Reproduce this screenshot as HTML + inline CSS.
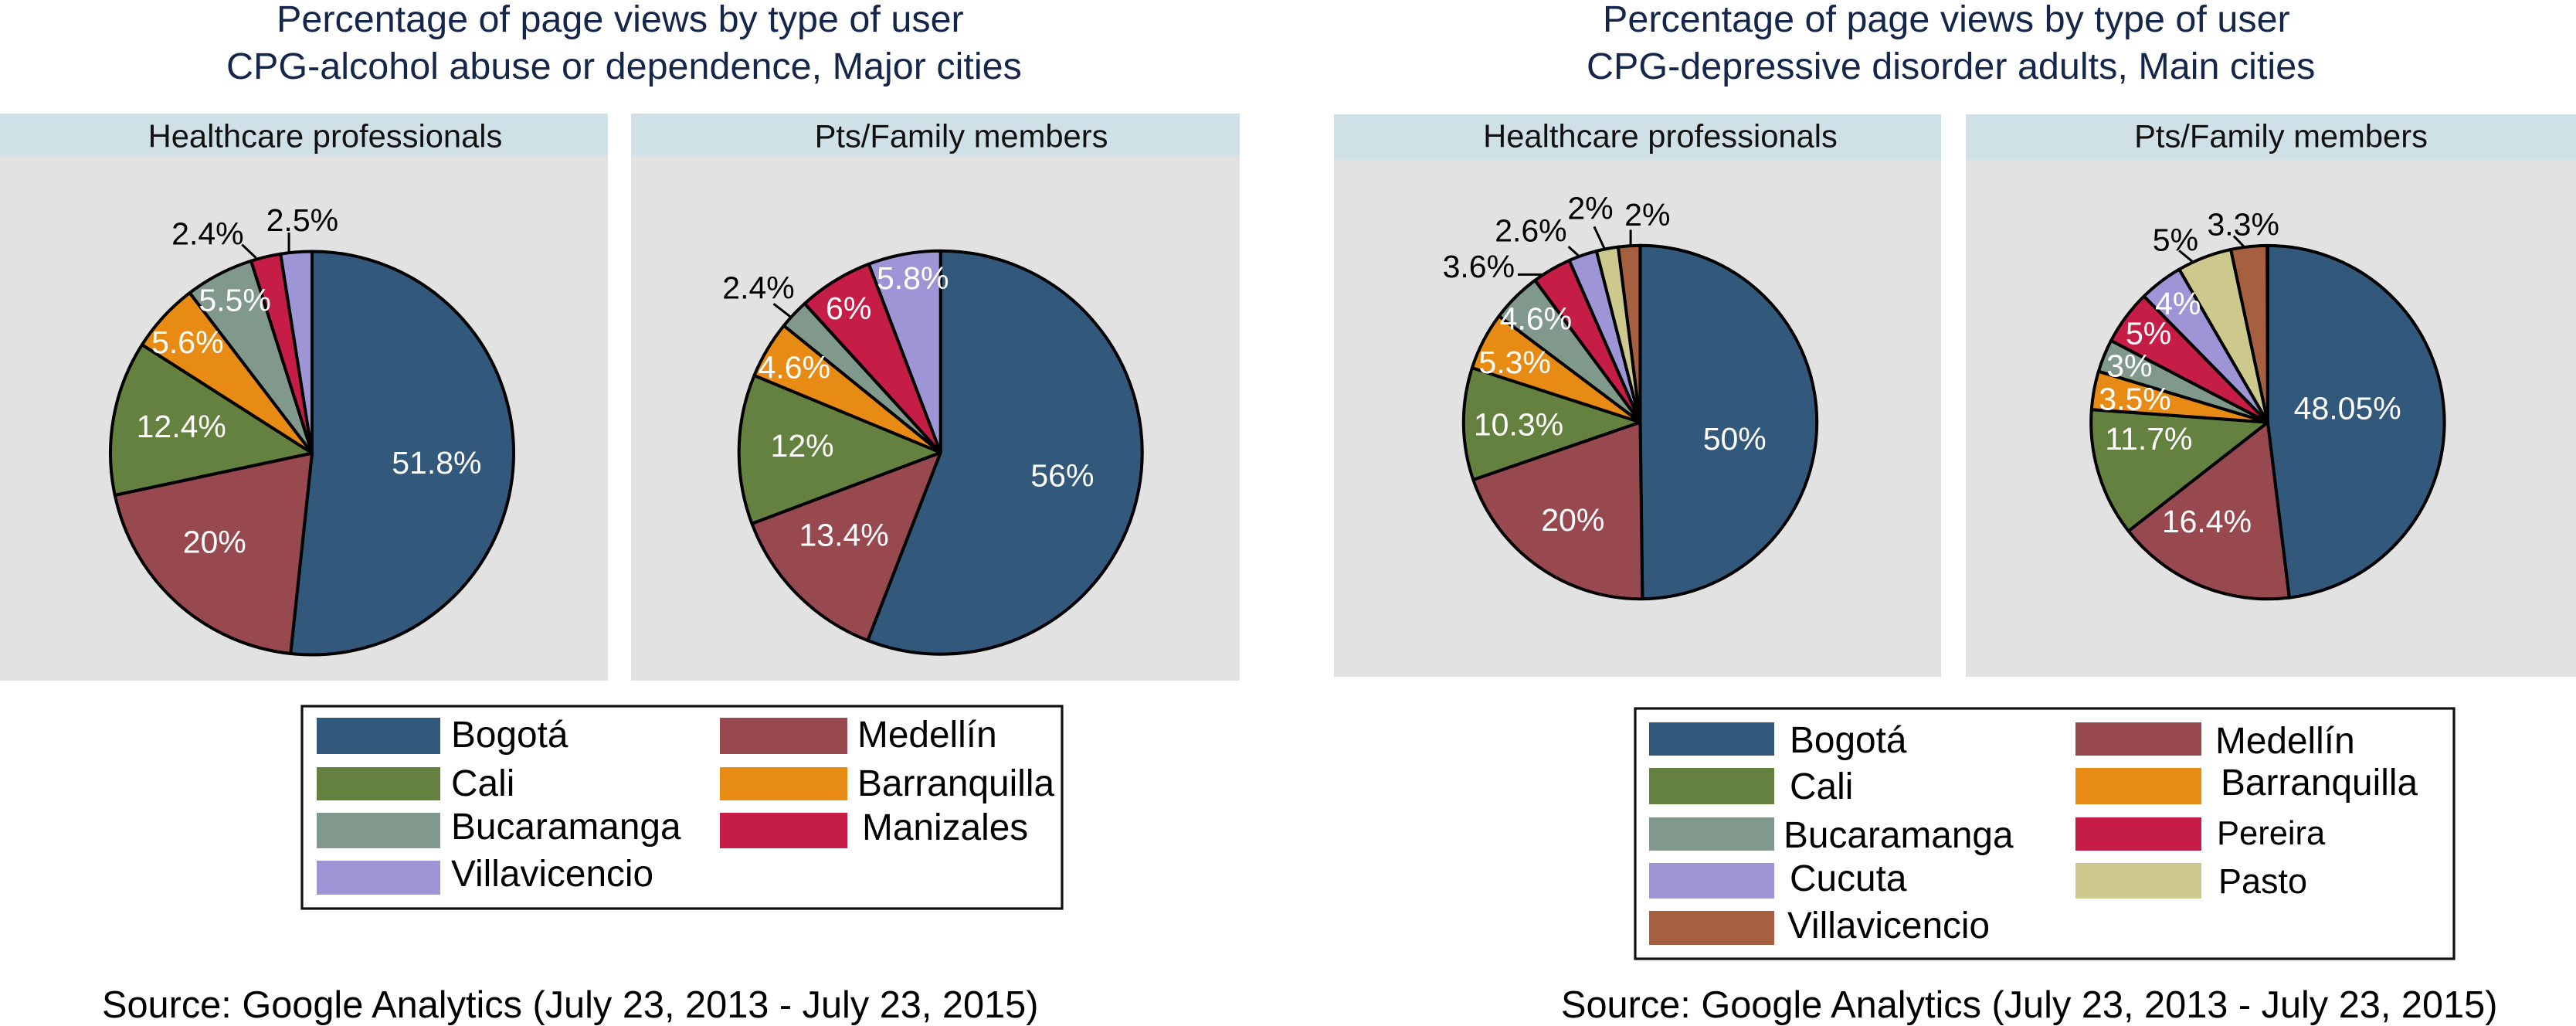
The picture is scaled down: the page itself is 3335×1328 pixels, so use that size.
<!DOCTYPE html>
<html lang="en">
<head>
<meta charset="utf-8">
<title>Percentage of page views by type of user</title>
<style>
html,body{margin:0;padding:0;background:#fff;width:3335px;height:1328px;overflow:hidden}
svg{display:block;font-family:"Liberation Sans",Arial,sans-serif}
.title{font-size:48.5px;fill:#14274a}
.strip-text{font-size:41.7px;fill:#111;text-anchor:middle}
.leg{font-size:47.8px;fill:#000}
.src{font-size:48.7px;fill:#000}
.pct{font-size:41px;text-anchor:middle}
</style>
</head>
<body>
<svg id="fig" xmlns="http://www.w3.org/2000/svg" width="3335" height="1328" viewBox="0 0 3335 1328">
  <rect x="0" y="0" width="3335" height="1328" fill="#ffffff"/>

  <text class="title" x="358" y="41">Percentage of page views by type of user</text>
  <text class="title" x="293" y="102">CPG-alcohol abuse or dependence, Major cities</text>
  <text class="title" x="2075" y="41">Percentage of page views by type of user</text>
  <text class="title" x="2054" y="102">CPG-depressive disorder adults, Main cities</text>

  <g>
    <rect x="0" y="147" width="787" height="734" fill="#e2e2e2"/>
    <rect x="0" y="147" width="787" height="54" fill="#d0e0e7"/>
    <text class="strip-text" x="421" y="190.5">Healthcare professionals</text>
  </g>
  <g>
    <rect x="817" y="147" width="788" height="734" fill="#e2e2e2"/>
    <rect x="817" y="147" width="788" height="54" fill="#d0e0e7"/>
    <text class="strip-text" x="1244.5" y="190.5">Pts/Family members</text>
  </g>
  <g>
    <rect x="1727" y="148" width="786" height="728" fill="#e2e2e2"/>
    <rect x="1727" y="148" width="786" height="59" fill="#d0e0e7"/>
    <text class="strip-text" x="2149.5" y="190.5">Healthcare professionals</text>
  </g>
  <g>
    <rect x="2545" y="148" width="790" height="728" fill="#e2e2e2"/>
    <rect x="2545" y="148" width="790" height="59" fill="#d0e0e7"/>
    <text class="strip-text" x="2953" y="190.5">Pts/Family members</text>
  </g>

  <g id="pies"></g>

  <g>
    <rect x="391" y="914" width="984" height="262" fill="#fff" stroke="#111" stroke-width="3.2"/>
    <g><rect x="410" y="929" width="160" height="47" fill="#32587c"/><text class="leg" x="584" y="967">Bogotá</text></g>
    <g><rect x="410" y="993" width="160" height="43" fill="#64813f"/><text class="leg" x="584" y="1030">Cali</text></g>
    <g><rect x="410" y="1052" width="160" height="46" fill="#80998c"/><text class="leg" x="584" y="1086">Bucaramanga</text></g>
    <g><rect x="410" y="1114" width="160" height="44" fill="#9e95d6"/><text class="leg" x="584" y="1147">Villavicencio</text></g>
    <g><rect x="932" y="929" width="165" height="47" fill="#98494f"/><text class="leg" x="1110" y="967">Medellín</text></g>
    <g><rect x="932" y="993" width="165" height="43" fill="#e88b14"/><text class="leg" x="1110" y="1030">Barranquilla</text></g>
    <g><rect x="932" y="1052" width="165" height="46" fill="#c51d46"/><text class="leg" x="1116" y="1087">Manizales</text></g>
  </g>

  <g>
    <rect x="2117" y="917" width="1060" height="324" fill="#fff" stroke="#111" stroke-width="3.2"/>
    <g><rect x="2135" y="935" width="162" height="43" fill="#32587c"/><text class="leg" x="2317" y="974">Bogotá</text></g>
    <g><rect x="2135" y="994" width="162" height="47" fill="#64813f"/><text class="leg" x="2317" y="1034">Cali</text></g>
    <g><rect x="2135" y="1058" width="162" height="43" fill="#80998c"/><text class="leg" x="2309" y="1097">Bucaramanga</text></g>
    <g><rect x="2135" y="1117" width="162" height="46" fill="#9e95d6"/><text class="leg" x="2317" y="1153">Cucuta</text></g>
    <g><rect x="2135" y="1179" width="162" height="44" fill="#a66040"/><text class="leg" x="2314" y="1214">Villavicencio</text></g>
    <g><rect x="2687" y="935" width="163" height="43" fill="#98494f"/><text class="leg" x="2868" y="975">Medellín</text></g>
    <g><rect x="2687" y="994" width="163" height="47" fill="#e88b14"/><text class="leg" x="2875" y="1029">Barranquilla</text></g>
    <g><rect x="2687" y="1058" width="163" height="43" fill="#c51d46"/><text class="leg" x="2870" y="1093" style="font-size:43.5px">Pereira</text></g>
    <g><rect x="2687" y="1117" width="163" height="46" fill="#cdc98d"/><text class="leg" x="2872" y="1156" style="font-size:45px">Pasto</text></g>
  </g>

  <text class="src" x="132" y="1317">Source: Google Analytics (July 23, 2013 - July 23, 2015)</text>
  <text class="src" x="2021" y="1317">Source: Google Analytics (July 23, 2013 - July 23, 2015)</text>
</svg>

<script>
// ---- Data ----
const citiesLeft = ['Bogotá','Medellín','Cali','Barranquilla','Bucaramanga','Manizales','Villavicencio'];
const citiesRight = ['Bogotá','Medellín','Cali','Barranquilla','Bucaramanga','Pereira','Cucuta','Pasto','Villavicencio'];
const alcoholProfessionals = [51.8,20,12.4,5.6,5.5,2.4,2.5];
const alcoholFamily = [56,13.4,12,4.6,2.4,6,5.8];
const depressionProfessionals = [50,20,10.3,5.3,4.6,3.6,2.6,2,2];
const depressionFamily = [48.05,16.4,11.7,3.5,3,5,4,5,3.3];

// ---- Styling and layout (separate from the data) ----
const sliceColors = ['#32587c','#98494f','#64813f','#e88b14','#80998c','#c51d46'];
const leftTailColors = ['#9e95d6'];
const rightTailColors = ['#9e95d6','#cdc98d','#a66040'];
const LABEL_BASE = 0.75;

function pieLayout(name, cities, values, tail, cx, cy, r, inside, outside) {
  return {name:name, cities:cities, values:values, colors:sliceColors.concat(tail), cx:cx, cy:cy, r:r, inside:inside, outside:outside};
}
// inside: label nudge from the point at LABEL_BASE*r on the slice's mid-angle.
// outside: leader start (s), leader end (e) and label (l), relative to the slice's rim point.
const pieCharts = [
  pieLayout('alcohol-professionals', citiesLeft, alcoholProfessionals, leftTailColors, 404, 586.5, 261,
    {0:[-34.1,15.9],1:[4.8,-16.5],2:[23.4,14.3],3:[-17,2.9],4:[-9.6,-10.2]},
    {5:{s:[-12.4,1.4],e:[-30.7,-15.9],l:[-75.1,-16.2]}, 6:{s:[-9.5,-.5],e:[-9.5,-25.3],l:[7.8,-27.3]}}),
  pieLayout('alcohol-family', citiesLeft, alcoholFamily, leftTailColors, 1217.7, 585.7, 261,
    {0:[-34.7,7.6],1:[14,-16.8],2:[16.6,8.4],3:[-21.1,3.8],5:[-16.4,-5.9],6:[-.6,-19.2]},
    {4:{s:[-4.4,3.3],e:[-26.2,-13.5],l:[-45.7,-20.4]}}),
  pieLayout('depression-professionals', citiesRight, depressionProfessionals, rightTailColors, 2123.5, 546.5, 228.7,
    {0:[-49.3,36.6],1:[11.5,0],2:[14,15.6],3:[-10.1,15.3],4:[-14.2,1.9]},
    {5:{s:[-8.8,6.7],e:[-43.8,6.7],l:[-94.4,10.1]}, 6:{s:[-4,2],e:[-18.5,-11.1],l:[-67.1,-18]}, 7:{s:[-3.2,.9],e:[-16.9,-28.4],l:[-21.8,-38.1]}, 8:{s:[1.9,.2],e:[1.9,-20.8],l:[23.6,-26]}}),
  pieLayout('depression-family', citiesRight, depressionFamily, rightTailColors, 2935.9, 546.6, 228.7,
    {0:[-67.9,6.3],1:[-13.3,-16.2],2:[10.1,-14.5],3:[-3.2,14.8],4:[-20.2,5.3],5:[-16.5,1.1],6:[-12.3,-3.1]},
    {7:{s:[-14.6,6],e:[-32.5,-8.8],l:[-37.3,-8.8]}, 8:{s:[-7,-.7],e:[-19.7,-13.8],l:[-7.3,-14.5]}})
];

const NS = 'http://www.w3.org/2000/svg';
const root = document.getElementById('pies');

function polar(p, angle, radius) {
  return {x: p.cx + radius * Math.sin(angle), y: p.cy - radius * Math.cos(angle)};
}

pieCharts.forEach(function (p) {
  const group = document.createElementNS(NS, 'g');
  
  
  root.appendChild(group);

  const sum = p.values.reduce(function (a, b) { return a + b; }, 0);
  const total = Math.max(sum, 100);
  const toAngle = function (v) { return v / total * 2 * Math.PI; };

  let cum = 0;
  const overlays = [];
  p.values.forEach(function (v, i) {
    const a0 = toAngle(cum), a1 = toAngle(cum + v), mid = (a0 + a1) / 2;
    cum += v;
    const p0 = polar(p, a0, p.r), p1 = polar(p, a1, p.r);
    const slice = document.createElementNS(NS, 'path');
    slice.setAttribute('d', 'M' + p.cx + ' ' + p.cy + 'L' + p0.x + ' ' + p0.y + 'A' + p.r + ' ' + p.r + ' 0 ' + (a1 - a0 > Math.PI ? 1 : 0) + ' 1 ' + p1.x + ' ' + p1.y + 'Z');
    slice.setAttribute('fill', p.colors[i]);
    slice.setAttribute('stroke', '#000');
    slice.setAttribute('stroke-width', '4');
    slice.setAttribute('stroke-linejoin', 'round');
    
    
    group.appendChild(slice);
    overlays.push({v: v, i: i, mid: mid});
  });

  overlays.forEach(function (o) {
    const out = p.outside[o.i];
    const label = document.createElementNS(NS, 'text');
    label.setAttribute('class', 'pct');
    label.textContent = o.v + '%';
    
    
    if (out) {
      const edge = polar(p, o.mid, p.r);
      const leader = document.createElementNS(NS, 'line');
      leader.setAttribute('x1', edge.x + out.s[0]);
      leader.setAttribute('y1', edge.y + out.s[1]);
      leader.setAttribute('x2', edge.x + out.e[0]);
      leader.setAttribute('y2', edge.y + out.e[1]);
      leader.setAttribute('stroke', '#000');
      leader.setAttribute('stroke-width', '3');
      
      
      group.appendChild(leader);
      label.setAttribute('x', edge.x + out.l[0]);
      label.setAttribute('y', edge.y + out.l[1]);
      label.setAttribute('fill', '#000');
    } else {
      const base = polar(p, o.mid, p.r * LABEL_BASE);
      const nudge = p.inside[o.i];
      label.setAttribute('x', base.x + nudge[0]);
      label.setAttribute('y', base.y + nudge[1]);
      label.setAttribute('fill', '#fff');
    }
    group.appendChild(label);
  });
});
</script>
</body>
</html>
